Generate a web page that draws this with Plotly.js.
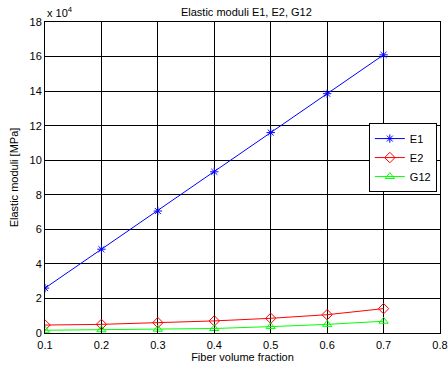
<!DOCTYPE html>
<html>
<head>
<meta charset="utf-8">
<script src="https://cdn.plot.ly/plotly-3.0.1.min.js"></script>
<style>html,body{margin:0;padding:0;background:#fff;}#chart{width:448px;height:371px;}</style>
</head>
<body>
<div id="chart"></div>
<script>
const fiberFraction = [0.1, 0.2, 0.3, 0.4, 0.5, 0.6, 0.7];
const E1 = [26000, 48500, 70600, 93300, 116000, 138500, 161000];
const E2 = [4600, 5000, 6000, 7000, 8500, 10600, 14100];
const G12 = [1600, 1900, 2200, 2600, 3700, 5000, 6800];
const xTicks = [0.1, 0.2, 0.3, 0.4, 0.5, 0.6, 0.7, 0.8];
const yTickVals = [0, 20000, 40000, 60000, 80000, 100000, 120000, 140000, 160000, 180000];
const yTickText = ['0', '2', '4', '6', '8', '10', '12', '14', '16', '18'];

const font = {family: 'Liberation Sans, Arial, sans-serif', size: 11, color: '#000'};
const traces = [
  {x: fiberFraction, y: E1, name: 'E1', mode: 'lines+markers', type: 'scatter',
   line: {color: '#0000ff', width: 1}, marker: {symbol: 'asterisk-open', size: 7, color: '#0000ff', line: {color: '#0000ff', width: 1}}},
  {x: fiberFraction, y: E2, name: 'E2', mode: 'lines+markers', type: 'scatter',
   line: {color: '#ff0000', width: 1}, marker: {symbol: 'diamond-open', size: 8, color: '#ff0000', line: {color: '#ff0000', width: 1}}},
  {x: fiberFraction, y: G12, name: 'G12', mode: 'lines+markers', type: 'scatter',
   line: {color: '#00ff00', width: 1}, marker: {symbol: 'triangle-up-open', size: 8, color: '#00ff00', line: {color: '#00ff00', width: 1}}}
];
const axisCommon = {
  showline: true, linecolor: '#000', linewidth: 1, mirror: 'ticks',
  ticks: 'inside', ticklen: 4, tickcolor: '#000',
  showgrid: true, gridcolor: '#000', gridwidth: 1, zeroline: false,
  tickfont: font
};
const layout = {
  width: 448, height: 371,
  margin: {l: 45, r: 8, t: 22, b: 38},
  paper_bgcolor: '#fff', plot_bgcolor: '#fff',
  font: font,
  title: {text: 'Elastic moduli E1, E2, G12', font: font, x: 0.55, xanchor: 'center', y: 0.968, yanchor: 'middle'},
  xaxis: Object.assign({}, axisCommon, {range: [0.1, 0.8], tickvals: xTicks, ticktext: xTicks.map(v => v.toFixed(1)),
    ticklabelstandoff: 2,
    title: {text: 'Fiber volume fraction', font: font, standoff: 3}}),
  yaxis: Object.assign({}, axisCommon, {range: [0, 180000], tickvals: yTickVals, ticktext: yTickText,
    title: {text: 'Elastic moduli [MPa]', font: font, standoff: 8}}),
  showlegend: true,
  legend: {x: 0.992, xanchor: 'right', y: 0.675, yanchor: 'top', bgcolor: '#fff', bordercolor: '#000', borderwidth: 1,
    font: font, tracegroupgap: 0, itemwidth: 30},
  annotations: [{xref: 'paper', yref: 'paper', x: 0, y: 1, xanchor: 'left', yanchor: 'bottom', yshift: 1, xshift: 0,
    text: 'x 10<sup>4</sup>', showarrow: false, font: font}]
};
Plotly.newPlot('chart', traces, layout, {displayModeBar: false, staticPlot: true});
</script>
</body>
</html>
